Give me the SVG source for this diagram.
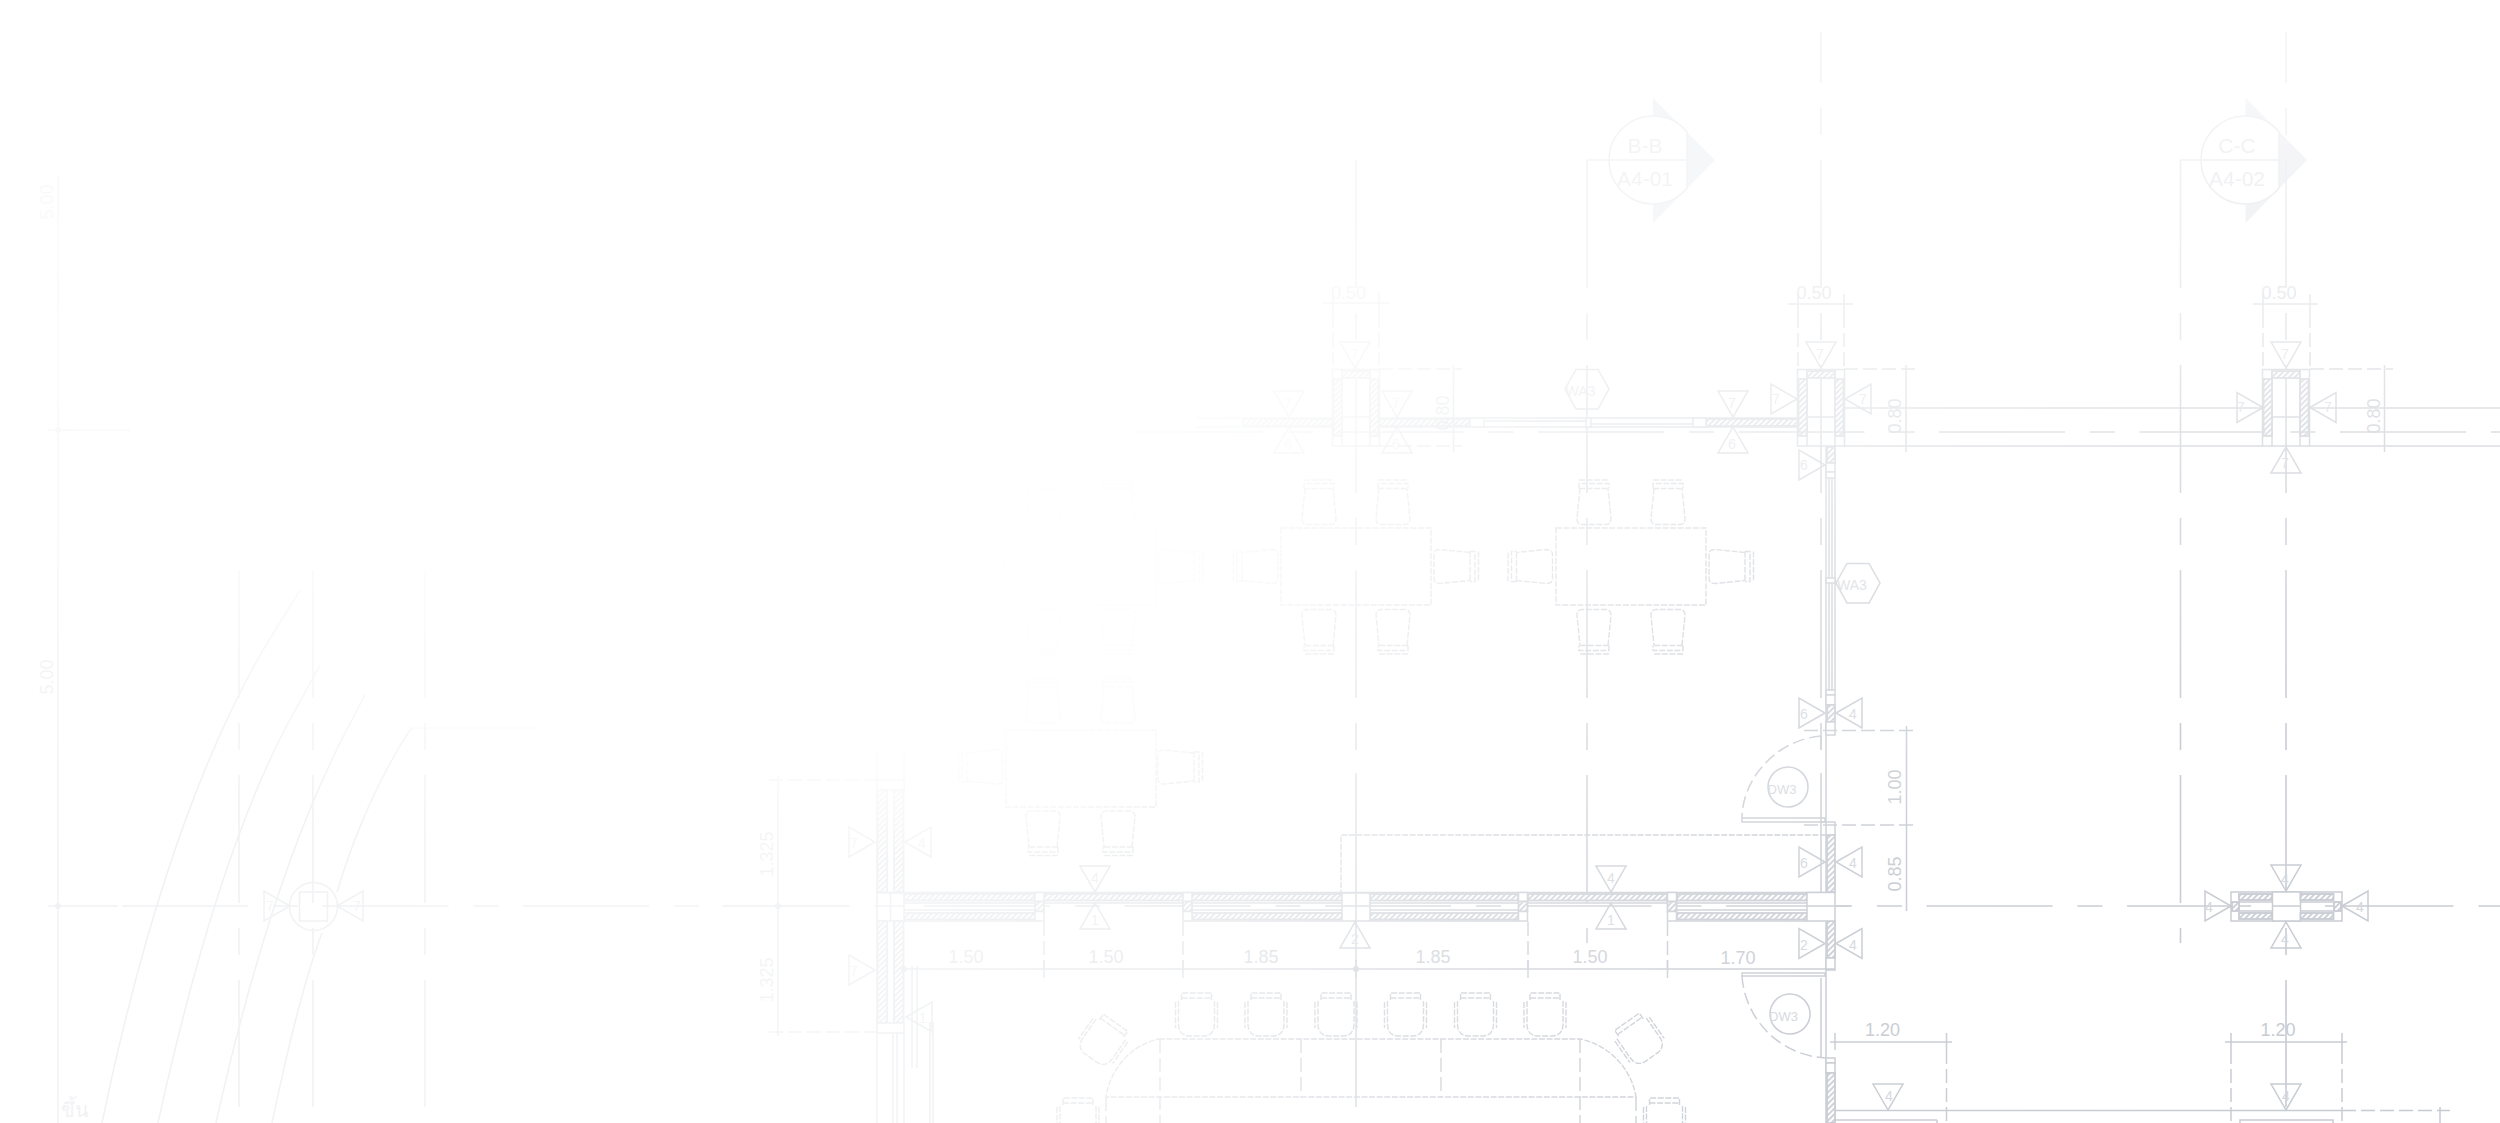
<svg xmlns="http://www.w3.org/2000/svg" xmlns:xlink="http://www.w3.org/1999/xlink" width="2500" height="1123" viewBox="0 0 2500 1123">
<style>
text{font-family:"Liberation Sans","Noto Sans",sans-serif;fill:#c6cad1;text-anchor:middle;dominant-baseline:central}
.n{font-size:18px}.t{font-size:14px;fill:#d2d5db}.s{font-size:21px}.q{font-size:13px;fill:#d2d5db}
.l,.l *{fill:none;stroke:#c6cad1;stroke-width:1.5}
.w,.w *{fill:#fff;stroke:#c6cad1;stroke-width:1.5}
.d{fill:none;stroke:#c6cad1;stroke-width:1.5;stroke-dasharray:14 5}
.f{fill:none;stroke:#c6cad1;stroke-width:1.4;stroke-dasharray:6 1.6}
.v{fill:none;stroke:#c6cad1;stroke-width:1.6;stroke-dasharray:128 25 27 25}
.a{fill:none;stroke:#c6cad1;stroke-width:1.6;stroke-dasharray:126 25 25 24.5}
.h{fill:url(#hatch);stroke:#c6cad1;stroke-width:1.8}
.k{fill:#c6cad1;stroke:none}
</style>
<defs>
<pattern id="hatch" width="4" height="4" patternUnits="userSpaceOnUse" patternTransform="rotate(45)"><rect width="4" height="4" fill="#fff"/><rect width="1.8" height="4" fill="#c6cad1"/></pattern>
<radialGradient id="fade" gradientUnits="userSpaceOnUse" cx="0" cy="0" r="1" gradientTransform="translate(2500,1123) scale(3200,2000)">
<stop offset="0" stop-color="#fff" stop-opacity="0"/><stop offset=".219" stop-color="#fff" stop-opacity=".08"/><stop offset=".344" stop-color="#fff" stop-opacity=".38"/><stop offset=".406" stop-color="#fff" stop-opacity=".62"/><stop offset=".469" stop-color="#fff" stop-opacity=".72"/><stop offset=".516" stop-color="#fff" stop-opacity=".8"/><stop offset=".5625" stop-color="#fff" stop-opacity=".8"/><stop offset=".75" stop-color="#fff" stop-opacity=".74"/><stop offset=".94" stop-color="#fff" stop-opacity=".9"/>
</radialGradient>
<radialGradient id="fade2" gradientUnits="userSpaceOnUse" cx="0" cy="0" r="1" gradientTransform="translate(700,400) scale(900,480)">
<stop offset="0" stop-color="#fff" stop-opacity=".95"/><stop offset=".5" stop-color="#fff" stop-opacity=".75"/><stop offset=".8" stop-color="#fff" stop-opacity=".3"/><stop offset="1" stop-color="#fff" stop-opacity="0"/>
</radialGradient>
<radialGradient id="fade3" gradientUnits="userSpaceOnUse" cx="0" cy="0" r="1" gradientTransform="translate(1000,630) scale(340,240)">
<stop offset="0" stop-color="#fff" stop-opacity=".85"/><stop offset=".6" stop-color="#fff" stop-opacity=".6"/><stop offset="1" stop-color="#fff" stop-opacity="0"/>
</radialGradient>
<path id="tri" d="M0,0 L-15,-26 H15 Z"/>
<g id="chair"><path d="M-14,-14 L-17,16 Q-17,22 -12,22 H12 Q17,22 17,16 L14,-14" class="f"/><path d="M-15,-14 H15 M-15,-14 V-19 H15 V-14 M-15,-22.5 H15" class="f"/></g>
<g id="chair2"><path d="M-18,-13 V10 Q-18,21 -8,22 H8 Q18,21 18,10 V-13" class="f"/><path d="M-15,-14 V-21 H15 V-14 M-15,-16 H15 M-21,-12 V14 M21,-12 V14" class="f"/></g>
<g id="col"><rect x="-23.5" y="369.5" width="47" height="76.5" class="w"/><path d="M-14,370 V446 M14,370 V446 M0,379 V446 M-14,417 H14" class="l"/><rect x="-22.5" y="379" width="8.5" height="57" class="h"/><rect x="14" y="379" width="8.5" height="57" class="h"/><rect x="-14" y="371" width="28" height="7" class="h"/></g>
<g id="post"><rect x="0" y="892.5" width="9" height="9" class="w"/><rect x="0" y="901.5" width="9" height="10" class="h"/><rect x="0" y="911.5" width="9" height="9.5" class="w"/></g>
</defs>
<rect width="2500" height="1123" fill="#fff"/>
<g id="axes">
<line class="v" x1="1356" y1="160" x2="1356" y2="773"/><path class="l" d="M1356,773 V1107"/>
<line class="v" x1="1821" y1="32" x2="1821" y2="760" stroke-dashoffset="77"/>
<line class="v" x1="2286" y1="32" x2="2286" y2="1107" stroke-dashoffset="77"/>
<line class="v" x1="1587" y1="160" x2="1587" y2="943"/>
<line class="v" x1="2180.5" y1="160" x2="2180.5" y2="943"/>
<line class="v" x1="239" y1="570" x2="239" y2="1107"/>
<line class="v" x1="313" y1="570" x2="313" y2="1107"/>
<line class="v" x1="425" y1="570" x2="425" y2="1107"/>
<line class="a" x1="122" y1="906" x2="2500" y2="906" stroke-dashoffset="0"/><path class="l" d="M48,906 H118"/>
<path class="l" d="M58,175 V1123 M48,430 H130"/><circle class="k" cx="58" cy="430" r="3"/><circle class="k" cx="58" cy="906" r="3"/>
<text class="n" transform="translate(47,202) rotate(-90)">5.00</text>
<text transform="translate(47,677) rotate(-90)" class="n">5.00</text>
<text x="75" y="1109" style="font-size:20px;font-family:'Noto Sans','DejaVu Sans',sans-serif">ขึ้น</text>
</g>
<g id="curves" class="l">
<path d="M102,1123 Q165,820 263,650 L300,590"/>
<path d="M158,1123 Q218,850 292,716 L320,665"/>
<path d="M216,1123 Q270,880 344,735 L365,695"/>
<path d="M272,1123 Q300,990 322,933 M337,892 Q365,800 408,733 L412,728" />
<path d="M412,728 H540" opacity=".45"/>
</g>
<g id="grid-node"><circle class="l" cx="313.5" cy="906.5" r="24"/><rect class="l" x="299.5" y="892" width="28" height="29"/>
<use href="#tri" class="l" transform="translate(290,906) rotate(-90)"/><use href="#tri" class="l" transform="translate(337,906) rotate(90)"/><text class="t" x="270" y="906">7</text><text class="t" x="357" y="906">7</text></g>
<g id="sections">
<path d="M1653,98 L1715,160 L1653,223 Z" fill="#c6cad1" opacity=".75"/><path class="w" d="M1687,132 A44,44 0 1 0 1687,188 Z"/><path class="l" d="M1587,160 H1687"/>
<text class="s" x="1645" y="145">B-B</text><text class="s" x="1645" y="178">A4-01</text>
<path d="M2245.5,98 L2307,160 L2245.5,223 Z" fill="#c6cad1" opacity=".75"/><path class="w" d="M2279,132 A44,44 0 1 0 2279,188 Z"/><path class="l" d="M2180.5,160 H2279"/>
<text class="s" x="2237" y="145">C-C</text><text class="s" x="2237" y="178">A4-02</text>
</g>
<g id="upper-wall">
<path class="l" d="M1197,418 H1798 M1197,427 H1798 M1485,421 H1586 M1591,424 H1692"/>
<rect class="h" x="1243" y="419" width="90" height="7"/><rect class="h" x="1379" y="419" width="91" height="7"/><rect class="h" x="1706" y="419" width="92" height="7"/>
<rect class="w" x="1470" y="418" width="14" height="9"/><rect class="w" x="1693" y="418" width="13" height="9"/><rect class="w" x="1586" y="418" width="5" height="9"/>
<use href="#col" x="1356"/><use href="#col" x="1821"/><use href="#col" x="2286"/>
<path class="l" d="M1844,408 H2263 M2310,408 H2500 M1844,446 H2263 M2310,446 H2500"/>
<line class="a" x1="1137" y1="432" x2="2500" y2="432"/>
</g>
<g id="vertical-wall-east">
<path class="l" d="M1826,446 V1123 M1835,478 V690 M1829,478 V690 M1832,478 V690"/>
<rect class="h" x="1827" y="447" width="8" height="16"/><rect class="w" x="1826" y="463" width="9" height="9"/><rect class="w" x="1826" y="472" width="9" height="6"/><rect class="w" x="1826" y="578" width="9" height="5"/>
<rect class="w" x="1826" y="690" width="9" height="5"/><rect class="w" x="1826" y="695" width="9" height="10"/><rect class="h" x="1827" y="705" width="8" height="17"/><rect class="w" x="1826" y="722" width="9" height="13"/>
<path class="d" d="M1821,736 C1775,740 1742,780 1742,818" style="stroke-dasharray:12 5"/><rect class="l" x="1742" y="818" width="83" height="4"/>
<path class="l" d="M1821,822 H1835 V835"/><rect class="h" x="1827" y="835" width="8" height="57"/><rect class="h" x="1827" y="921" width="8" height="37"/><rect class="w" x="1826" y="958" width="9" height="12"/>
<rect class="l" x="1742" y="973" width="83" height="3"/><path class="d" d="M1742,976 C1745,1020 1780,1055 1825,1058" style="stroke-dasharray:12 5"/>
<rect class="w" x="1826" y="1058" width="9" height="5"/><rect class="w" x="1826" y="1063" width="9" height="10"/><rect class="h" x="1827" y="1073" width="8" height="50"/>
<circle class="l" cx="1788" cy="787" r="20"/><text class="q" x="1782" y="789">DW3</text>
<circle class="l" cx="1790" cy="1014" r="20"/><text class="q" x="1783.5" y="1016">DW3</text>
<path class="l" d="M1821,736 V750 M1821,773 V902 M1821,978 V1058"/>
<polygon class="l" points="1836,583 1847,563.5 1869,563.5 1880,583 1869,603 1847,603"/><text class="t" x="1852" y="585">WA3</text>
<polygon class="l" points="1565,389 1576,369.5 1598,369.5 1609,389 1598,409 1576,409"/><text class="t" x="1580.5" y="391">WA3</text>
</g>
<g id="lower-wall">
<path class="l" d="M877,892.5 H1835 M904,921 H1035 M1192,921 H1342 M1370,921 H1518 M1677,921 H1807 M904,903 H1807 M904,910 H1035 M1192,910 H1342 M1370,910 H1518 M1677,910 H1807"/>
<rect class="h" x="904" y="894" width="131" height="6.5"/><rect class="h" x="904" y="913" width="131" height="6.5"/>
<rect class="h" x="1044" y="894" width="139" height="6.5"/>
<rect class="h" x="1192" y="894" width="150" height="6.5"/><rect class="h" x="1192" y="913" width="150" height="6.5"/>
<rect class="h" x="1370" y="894" width="148" height="6.5"/><rect class="h" x="1370" y="913" width="148" height="6.5"/>
<rect class="h" x="1528" y="894" width="139" height="6.5"/>
<rect class="h" x="1677" y="894" width="130" height="6.5"/><rect class="h" x="1677" y="913" width="130" height="6.5"/>
<use href="#post" x="1035"/><use href="#post" x="1183"/><use href="#post" x="1518.5"/><use href="#post" x="1667.5"/>
<rect class="w" x="1342" y="893" width="28" height="28"/><rect class="w" x="877" y="893" width="27" height="28"/><rect class="w" x="1807" y="892.5" width="28" height="28.5"/>
<path class="l" d="M890.5,893 V921 M877,906 H904 M1356,893 V921 M1342,906 H1370 M1807,906 H1850"/>
</g>
<g id="west-wall">
<path class="l" d="M877,750 V1123 M904,750 V790 M904,1033 V1123 M887,790 V892 M894,790 V892 M887,921 V1023 M894,921 V1023 M893,1033 V1123 M897,1033 V1123 M912,966 V1068 M917,966 V1068 M930,1022 V1123 M933,1022 V1123"/>
<rect class="w" x="877" y="780" width="27" height="10"/>
<rect class="h" x="877.5" y="790" width="9.5" height="102"/><rect class="h" x="894" y="790" width="9.5" height="102"/>
<rect class="h" x="877.5" y="921" width="9.5" height="102"/><rect class="h" x="894" y="921" width="9.5" height="102"/>
<rect class="w" x="877" y="1023" width="27" height="10"/>
</g>
<g id="cross-column">
<rect class="w" x="2231" y="892" width="111" height="29"/><rect class="w" x="2272.5" y="892" width="28" height="29"/>
<rect class="h" x="2239" y="894" width="33" height="6"/><rect class="h" x="2300.5" y="894" width="33" height="6"/><rect class="h" x="2239" y="913" width="33" height="6"/><rect class="h" x="2300.5" y="913" width="33" height="6"/>
<rect class="h" x="2232" y="902" width="7" height="9"/><rect class="h" x="2334" y="902" width="7" height="9"/>
<path class="l" d="M2239,902 H2272 M2239,911 H2272 M2300,902 H2333 M2300,911 H2333 M2239,906 H2251 M2325,906 H2333 M2272.5,906 H2300.5"/>
</g>
<g id="markers" class="l">
<use href="#tri" transform="translate(1355,368)"/><use href="#tri" transform="translate(1821,368)"/><use href="#tri" transform="translate(2286,368)"/>
<use href="#tri" transform="translate(1289,417)"/><use href="#tri" transform="translate(1397,417)"/><use href="#tri" transform="translate(1733,417)"/>
<use href="#tri" transform="translate(1289,427) rotate(180)"/><use href="#tri" transform="translate(1397,427) rotate(180)"/><use href="#tri" transform="translate(1733,427) rotate(180)"/>
<use href="#tri" transform="translate(1797,399) rotate(-90)"/><use href="#tri" transform="translate(1845,399) rotate(90)"/>
<use href="#tri" transform="translate(2263,407.5) rotate(-90)"/><use href="#tri" transform="translate(2310,407.5) rotate(90)"/>
<use href="#tri" transform="translate(2286,447) rotate(180)"/>
<use href="#tri" transform="translate(1825,465) rotate(-90)"/>
<use href="#tri" transform="translate(1825,713) rotate(-90)"/><use href="#tri" transform="translate(1836,713) rotate(90)"/>
<use href="#tri" transform="translate(1825,862) rotate(-90)"/><use href="#tri" transform="translate(1836,862) rotate(90)"/>
<use href="#tri" transform="translate(1825,943.5) rotate(-90)"/><use href="#tri" transform="translate(1836,943.5) rotate(90)"/>
<use href="#tri" transform="translate(2286,891)"/><use href="#tri" transform="translate(2286,922) rotate(180)"/><use href="#tri" transform="translate(2231,906) rotate(-90)"/><use href="#tri" transform="translate(2342,906) rotate(90)"/>
<use href="#tri" transform="translate(1888,1110)"/><use href="#tri" transform="translate(2286,1110)"/>
<use href="#tri" transform="translate(875,842) rotate(-90)"/><use href="#tri" transform="translate(905,842) rotate(90)"/>
<use href="#tri" transform="translate(875,970) rotate(-90)"/><use href="#tri" transform="translate(906,1017) rotate(90)"/>
<use href="#tri" transform="translate(1095,892)"/><use href="#tri" transform="translate(1095,903) rotate(180)"/>
<use href="#tri" transform="translate(1611,892)"/><use href="#tri" transform="translate(1611,903) rotate(180)"/>
<use href="#tri" transform="translate(1355,922) rotate(180)"/>
</g>
<g id="marker-labels">
<text class="t" x="1355" y="354">7</text><text class="t" x="1820" y="354">7</text><text class="t" x="2285" y="354">7</text>
<text class="t" x="1288" y="403">7</text><text class="t" x="1396" y="403">7</text><text class="t" x="1732" y="403">7</text>
<text class="t" x="1288" y="444">6</text><text class="t" x="1396" y="444">6</text><text class="t" x="1732" y="444">6</text>
<text class="t" x="1776" y="399">7</text><text class="t" x="1863" y="399">7</text><text class="t" x="2241" y="407">7</text><text class="t" x="2328" y="407">7</text>
<text class="t" x="2285" y="463">7</text><text class="t" x="1804" y="465">6</text>
<text class="t" x="1804" y="714">6</text><text class="t" x="1853" y="714">4</text><text class="t" x="1804" y="863">6</text><text class="t" x="1853" y="863">4</text><text class="t" x="1804" y="945">2</text><text class="t" x="1853" y="945">4</text>
<text class="t" x="2285" y="879">4</text><text class="t" x="2285" y="939">4</text><text class="t" x="2209" y="907">4</text><text class="t" x="2360" y="907">4</text>
<text class="t" x="1889" y="1096">4</text><text class="t" x="2286" y="1096">4</text>
<text class="t" x="854" y="843">7</text><text class="t" x="922" y="843">4</text><text class="t" x="854" y="971">7</text><text class="t" x="923" y="1018">1</text>
<text class="t" x="1095" y="878">4</text><text class="t" x="1095" y="920">1</text><text class="t" x="1611" y="878">4</text><text class="t" x="1611" y="920">1</text><text class="t" x="1355" y="939">2</text>
</g>
<g id="dimensions">
<path class="l" d="M1788,304 H1853 M1798,294 V314 M1844,294 V314 M2253,304 H2318 M2263,294 V314 M2310,294 V314 M1323,303 H1389 M1333,293 V313 M1379,293 V313"/>
<path class="d" d="M1798,314 V369 M1844,314 V369 M2263,314 V369 M2310,314 V369 M1333,314 V369 M1379,314 V369"/>
<text class="n" x="1814" y="293">0.50</text><text class="n" x="2279" y="293">0.50</text><text class="n" x="1348.5" y="293">0.50</text>
<path class="l" d="M2384.5,365 V452 M1906,365 V452 M1453.5,365 V452"/>
<path class="d" d="M2310,369 H2393 M1844,369 H1916 M1379,369 H1462 M1379,446 H1462"/>
<text class="n" transform="translate(2374,416) rotate(-90)">0.80</text><text class="n" transform="translate(1895,416) rotate(-90)">0.80</text><text class="n" transform="translate(1443,413) rotate(-90)">0.80</text>
<path class="l" d="M1906.5,726 V911"/><path class="d" d="M1804,730.5 H1916 M1804,825 H1916"/>
<text class="n" transform="translate(1895,787) rotate(-90)">1.00</text><text class="n" transform="translate(1895,874) rotate(-90)">0.85</text>
<path class="l" d="M1830,1042 H1952 M1835,1033 V1050 M1946.5,1033 V1050 M2225,1042 H2347 M2231,1033 V1050 M2342,1033 V1050"/>
<path class="d" d="M1946.5,1050 V1123 M2231,1050 V1123 M2342,1050 V1123 M2342,1110.5 H2450"/>
<path class="l" d="M1835,1110.5 H2342 M1835,1120 H1937 M1937,1120 V1123 M2240,1123 V1120 H2333 V1123 M2440,1107 V1123"/>
<text class="n" x="1882.5" y="1030">1.20</text><text class="n" x="2278" y="1030">1.20</text>
<path class="l" d="M904,969 H1835 M1044,960 V978 M1183,960 V978 M1356,960 V978 M1528,960 V978 M1667.5,960 V978"/><circle class="k" cx="1356" cy="969" r="3"/><circle class="k" cx="904" cy="969" r="3"/>
<path class="d" d="M1044,922 V969 M1183,922 V969 M1528,922 V969 M1667.5,922 V969"/>
<text class="n" x="966" y="957">1.50</text><text class="n" x="1106" y="957">1.50</text><text class="n" x="1261" y="957">1.85</text><text class="n" x="1433" y="957">1.85</text><text class="n" x="1590" y="957">1.50</text><text class="n" x="1738" y="958">1.70</text>
<path class="l" d="M778,776 V1036 M722,906 H849"/><path class="d" d="M769,780 H877 M769,1032 H877"/><circle class="k" cx="778" cy="906" r="3"/>
<text class="n" transform="translate(767,854) rotate(-90)">1.325</text><text class="n" transform="translate(767,980) rotate(-90)">1.325</text>
<path class="f" d="M1826,835 H1341 V892"/>
</g>
<g id="furniture">
<rect class="f" x="1281" y="528" width="150" height="77"/><rect class="f" x="1556" y="528" width="150" height="77"/><rect class="f" x="1006" y="528" width="150" height="77"/><rect class="f" x="1006" y="730" width="150" height="77"/>
<use href="#chair" transform="translate(1319,502.5)"/><use href="#chair" transform="translate(1393,502.5)"/><use href="#chair" transform="translate(1594,502.5)"/><use href="#chair" transform="translate(1668,502.5)"/>
<use href="#chair" transform="translate(1319,631.5) rotate(180)"/><use href="#chair" transform="translate(1393,631.5) rotate(180)"/><use href="#chair" transform="translate(1594,631.5) rotate(180)"/><use href="#chair" transform="translate(1668,631.5) rotate(180)"/>
<use href="#chair" transform="translate(1256,566.5) rotate(-90)"/><use href="#chair" transform="translate(1456,566.5) rotate(90)"/><use href="#chair" transform="translate(1530.5,566.5) rotate(-90)"/><use href="#chair" transform="translate(1731,566.5) rotate(90)"/>
<use href="#chair" transform="translate(1180,566.5) rotate(90)"/><use href="#chair" transform="translate(981,566.5) rotate(-90)"/><use href="#chair" transform="translate(1043,502.5)"/><use href="#chair" transform="translate(1118,502.5)"/><use href="#chair" transform="translate(1043,631) rotate(180)"/><use href="#chair" transform="translate(1118,631) rotate(180)"/>
<use href="#chair" transform="translate(1180,767) rotate(90)"/><use href="#chair" transform="translate(981,767) rotate(-90)"/><use href="#chair" transform="translate(1043,701)"/><use href="#chair" transform="translate(1118,701)"/><use href="#chair" transform="translate(1043,833) rotate(180)"/><use href="#chair" transform="translate(1118,833) rotate(180)"/>
<use href="#chair2" transform="translate(1196.5,1014)"/><use href="#chair2" transform="translate(1266,1014)"/><use href="#chair2" transform="translate(1336,1014)"/><use href="#chair2" transform="translate(1405.5,1014)"/><use href="#chair2" transform="translate(1475.5,1014)"/><use href="#chair2" transform="translate(1545,1014)"/>
<use href="#chair2" transform="translate(1103.5,1040) rotate(35)"/><use href="#chair2" transform="translate(1639,1039) rotate(-35)"/>
<use href="#chair2" transform="translate(1078,1119)"/><use href="#chair2" transform="translate(1664.5,1119)"/>
<path class="f" d="M1159,1039 H1580 C1610,1045 1632,1070 1636,1097 H1106 C1110,1070 1130,1045 1159,1039"/>
<path class="d" d="M1301,1039 V1097 M1441,1039 V1097 M1160,1039 V1123 M1580,1039 V1123 M1106,1097 V1123 M1636,1097 V1123"/>
</g>
<rect id="fade-overlay" width="2500" height="1123" fill="url(#fade)"/><rect id="fade-overlay-2" width="2500" height="1123" fill="url(#fade2)"/><rect id="fade-overlay-3" width="2500" height="1123" fill="url(#fade3)"/>
</svg>
